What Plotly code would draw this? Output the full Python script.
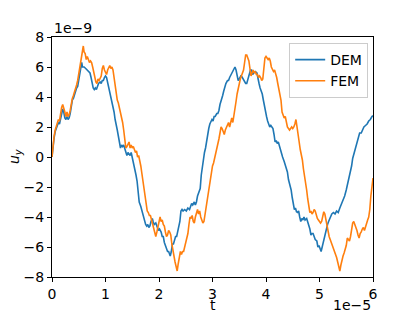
import plotly.graph_objects as go

# time in units of 1e-5, displacement in units of 1e-9
dem_t = [0.00,0.02,0.04,0.06,0.08,0.10,0.12,0.14,0.16,0.18,0.20,0.22,0.24,0.26,0.28,0.30,0.32,0.34,0.36,0.38,
         0.40,0.42,0.44,0.46,0.48,0.50,0.52,0.54,0.555,0.57,0.60,0.63,0.66,0.69,0.71,0.73,0.75,0.77,0.79,0.81,
         0.83,0.85,0.87,0.90,0.92,0.94,0.96,0.98,1.00,1.02,1.04,1.06,1.08,1.10,1.12,1.14,1.16,1.18,1.20,1.22,
         1.24,1.26,1.28,1.30,1.32,1.34,1.36,1.38,1.40,1.42,1.44,1.46,1.48,1.50,1.53,1.55,1.57,1.59,1.61,1.63,
         1.66,1.68,1.70,1.72,1.75,1.77,1.79,1.81,1.83,1.85,1.875,1.89,1.91,1.94,1.96,1.99,2.01,2.04,2.06,2.08,
         2.10,2.12,2.14,2.16,2.18,2.20,2.21,2.23,2.25,2.27,2.29,2.31,2.33,2.35,2.37,2.39,2.41,2.43,2.45,2.48,
         2.51,2.54,2.57,2.59,2.61,2.63,2.66,2.68,2.70,2.72,2.75,2.77,2.79,2.81,2.83,2.85,2.87,2.89,2.91,2.93,
         2.95,2.97,2.99,3.01,3.03,3.05,3.08,3.10,3.12,3.14,3.17,3.19,3.21,3.23,3.25,3.28,3.30,3.32,3.35,3.37,
         3.40,3.42,3.44,3.46,3.48,3.50,3.53,3.55,3.57,3.60,3.62,3.64,3.66,3.68,3.71,3.73,3.75,3.77,3.80,3.83,
         3.85,3.87,3.89,3.91,3.93,3.95,3.97,3.99,4.01,4.03,4.05,4.07,4.09,4.11,4.13,4.15,4.17,4.19,4.21,4.23,
         4.25,4.27,4.29,4.31,4.34,4.36,4.38,4.40,4.42,4.45,4.47,4.49,4.51,4.53,4.55,4.57,4.59,4.61,4.63,4.65,
         4.67,4.69,4.71,4.73,4.76,4.78,4.80,4.82,4.84,4.86,4.88,4.90,4.92,4.95,4.97,4.99,5.01,5.03,5.05,5.07,
         5.09,5.11,5.13,5.15,5.17,5.19,5.21,5.23,5.26,5.29,5.32,5.35,5.38,5.41,5.44,5.47,5.50,5.54,5.57,5.60,
         5.62,5.65,5.68,5.70,5.72,5.75,5.78,5.80,5.83,5.86,5.89,5.92,5.95,5.98,6.00]
dem_u = [0.0,0.8,1.3,1.7,1.9,2.1,2.3,2.2,2.6,2.9,3.2,3.0,2.6,2.5,2.7,2.5,2.6,2.9,3.3,3.8,
         3.9,4.2,4.3,4.6,4.7,5.2,5.6,6.1,6.3,6.0,6.0,5.9,5.8,5.7,5.6,5.3,4.8,4.6,4.5,4.6,
         4.5,4.7,4.9,5.0,4.9,5.1,5.1,5.3,5.4,5.3,5.0,4.7,4.3,4.1,3.6,3.3,3.0,2.5,2.0,1.8,
         1.4,0.9,0.6,0.8,0.7,0.8,0.5,0.3,0.1,0.3,0.2,0.1,0.3,0.0,-0.4,-0.7,-1.2,-1.6,-2.4,-3.0,
         -3.3,-3.6,-3.8,-4.1,-4.5,-4.6,-4.5,-4.7,-4.6,-4.3,-4.1,-4.3,-4.5,-4.4,-4.6,-4.9,-4.8,-5.0,-5.3,-5.3,
         -5.7,-6.0,-6.1,-6.3,-6.3,-6.5,-6.6,-6.3,-5.8,-5.8,-5.5,-5.3,-5.3,-4.9,-4.6,-4.3,-3.6,-3.5,-3.6,-3.5,
         -3.6,-3.4,-3.5,-3.3,-3.1,-3.2,-3.0,-3.2,-3.0,-2.6,-2.3,-2.1,-1.2,-0.6,-0.2,0.3,0.6,1.1,1.7,1.9,
         2.2,2.4,2.5,2.4,2.7,2.7,2.9,2.9,3.1,3.5,3.8,4.1,4.4,4.7,4.9,5.1,5.1,5.3,5.5,5.7,
         5.9,6.0,5.8,5.4,5.1,5.2,5.4,5.35,5.2,5.0,4.9,4.9,5.2,5.5,5.8,5.8,5.5,5.6,5.7,5.6,
         5.1,4.9,4.6,4.4,4.2,3.8,3.4,2.9,2.7,2.4,2.1,2.0,2.1,2.0,1.9,1.5,1.0,1.1,0.9,1.0,
         0.7,0.5,0.3,0.0,-0.3,-0.5,-0.8,-1.0,-1.5,-1.9,-2.2,-2.7,-3.3,-3.5,-3.4,-3.65,-3.7,-3.6,-4.0,-4.3,
         -4.1,-4.2,-4.0,-4.2,-4.1,-4.3,-4.6,-4.8,-5.2,-5.1,-5.1,-5.4,-5.5,-5.6,-6.0,-5.9,-6.1,-6.3,-6.0,-5.7,
         -5.3,-5.1,-4.6,-4.5,-4.3,-4.1,-4.0,-3.8,-3.7,-3.8,-3.6,-3.7,-3.4,-3.15,-2.9,-2.6,-2.2,-1.6,-1.0,-0.6,
         -0.1,0.3,0.7,0.9,1.3,1.6,1.6,1.8,2.0,2.1,2.2,2.4,2.5,2.7,2.75]

fem_t = [0.00,0.02,0.04,0.06,0.08,0.10,0.12,0.14,0.16,0.18,0.20,0.22,0.24,0.26,0.28,0.30,0.32,0.34,0.36,0.38,
         0.40,0.42,0.44,0.46,0.48,0.50,0.52,0.54,0.56,0.585,0.60,0.62,0.64,0.66,0.68,0.70,0.72,0.74,0.76,0.78,
         0.80,0.82,0.84,0.86,0.88,0.90,0.92,0.94,0.96,0.98,1.00,1.02,1.04,1.06,1.08,1.10,1.12,1.14,1.16,1.18,
         1.20,1.22,1.24,1.26,1.28,1.30,1.32,1.34,1.36,1.38,1.40,1.42,1.44,1.46,1.48,1.50,1.52,1.54,1.56,1.58,
         1.60,1.62,1.64,1.66,1.68,1.70,1.72,1.74,1.76,1.78,1.80,1.82,1.84,1.86,1.88,1.90,1.92,1.94,1.96,1.98,
         2.00,2.02,2.04,2.06,2.08,2.10,2.12,2.14,2.16,2.18,2.20,2.22,2.24,2.26,2.28,2.30,2.32,2.34,2.36,2.38,
         2.40,2.42,2.44,2.46,2.48,2.50,2.52,2.54,2.56,2.58,2.60,2.62,2.64,2.66,2.68,2.70,2.72,2.74,2.76,2.78,
         2.80,2.82,2.84,2.86,2.88,2.90,2.92,2.94,2.96,2.98,3.00,3.02,3.04,3.06,3.08,3.10,3.12,3.14,3.16,3.18,
         3.20,3.22,3.24,3.26,3.28,3.30,3.32,3.34,3.36,3.38,3.40,3.42,3.44,3.46,3.48,3.50,3.52,3.54,3.56,3.58,
         3.60,3.62,3.64,3.66,3.68,3.70,3.72,3.74,3.76,3.78,3.80,3.82,3.84,3.86,3.88,3.90,3.92,3.94,3.96,3.98,
         4.00,4.02,4.04,4.06,4.08,4.10,4.12,4.14,4.16,4.18,4.20,4.22,4.24,4.26,4.28,4.30,4.32,4.34,4.36,4.38,
         4.40,4.42,4.44,4.46,4.48,4.50,4.52,4.54,4.56,4.58,4.60,4.62,4.64,4.66,4.68,4.70,4.72,4.74,4.76,4.78,
         4.80,4.82,4.84,4.86,4.88,4.90,4.92,4.94,4.96,4.98,5.00,5.02,5.04,5.06,5.08,5.10,5.12,5.14,5.16,5.18,
         5.20,5.22,5.24,5.26,5.28,5.30,5.32,5.34,5.36,5.38,5.40,5.42,5.44,5.46,5.48,5.50,5.52,5.54,5.56,5.58,
         5.60,5.62,5.64,5.66,5.68,5.70,5.72,5.74,5.76,5.78,5.80,5.82,5.84,5.86,5.88,5.90,5.92,5.94,5.96,5.98,6.00]
fem_u = [0.0,0.9,1.4,1.8,2.0,2.3,2.5,2.4,2.9,3.3,3.5,3.3,3.0,2.7,3.0,2.7,2.8,3.1,3.6,3.9,
         4.1,4.3,4.5,4.8,5.1,5.5,5.9,6.3,6.8,7.4,7.0,6.9,6.5,6.7,6.5,6.3,6.4,6.3,6.0,5.6,
         5.2,5.0,4.9,5.2,5.1,5.3,5.4,5.9,6.1,5.8,5.6,5.5,5.8,6.0,6.1,5.9,6.0,5.8,5.3,4.7,
         4.0,3.8,3.6,3.3,2.9,2.5,2.3,1.8,1.2,0.6,0.7,0.9,1.0,0.6,0.8,0.6,0.7,0.5,0.3,0.4,
         0.0,0.1,-0.2,-0.6,-1.1,-1.6,-2.2,-2.8,-3.4,-3.6,-3.7,-3.9,-3.9,-4.2,-4.5,-4.6,-4.9,-5.3,-5.0,-4.7,
         -4.3,-4.0,-4.3,-4.2,-4.5,-4.6,-5.0,-5.3,-5.2,-4.9,-5.0,-5.2,-5.8,-6.3,-6.6,-7.0,-7.3,-7.6,-7.1,-6.6,
         -6.3,-6.5,-6.3,-6.3,-6.0,-5.7,-5.6,-5.1,-4.5,-4.0,-4.1,-3.9,-4.3,-4.4,-4.0,-3.8,-3.5,-3.8,-3.6,-4.0,
         -4.2,-4.4,-4.3,-3.8,-3.6,-3.0,-2.4,-1.8,-1.3,-1.0,-0.6,-0.4,-0.1,0.1,0.5,0.9,1.2,1.6,2.0,1.9,
         1.6,1.5,1.8,2.0,2.2,2.3,2.0,2.4,2.6,2.3,2.7,3.1,3.7,4.2,4.6,5.0,5.2,5.4,5.6,5.8,
         6.3,6.8,6.8,6.6,6.4,5.9,5.4,5.6,5.8,5.6,5.7,5.5,5.5,5.3,5.4,5.3,5.1,5.2,6.2,6.6,
         6.7,6.6,6.5,6.6,6.4,6.0,5.8,5.7,5.8,5.6,5.3,4.9,4.5,4.1,3.8,3.0,2.7,2.6,2.7,2.2,
         2.0,1.9,1.8,1.9,2.0,1.9,2.0,2.2,2.5,2.0,1.6,1.0,0.5,0.2,-0.2,-0.8,-1.2,-1.6,-2.2,-2.8,
         -3.4,-3.7,-3.6,-3.8,-3.7,-3.5,-3.6,-3.9,-4.1,-4.2,-4.3,-4.4,-4.3,-4.0,-3.65,-3.8,-4.2,-4.7,-4.9,-5.3,
         -5.5,-5.7,-5.9,-6.0,-6.2,-6.5,-6.7,-7.0,-7.4,-7.6,-7.2,-6.8,-6.6,-6.4,-6.2,-5.9,-5.4,-5.5,-5.6,-5.3,
         -4.8,-4.4,-4.3,-4.5,-4.6,-4.9,-5.2,-5.4,-5.1,-5.0,-4.8,-4.7,-4.9,-4.6,-4.3,-4.2,-4.0,-3.5,-2.6,-2.0,-1.4]

x_ticks = [0, 1, 2, 3, 4, 5, 6]
x_ticklabels = ["0", "1", "2", "3", "4", "5", "6"]
y_ticks = [-8, -6, -4, -2, 0, 2, 4, 6, 8]
y_ticklabels = ["\u22128", "\u22126", "\u22124", "\u22122", "0", "2", "4", "6", "8"]

FONT = "DejaVu Sans"
FS = 14

fig = go.Figure()
fig.add_trace(go.Scatter(x=dem_t, y=dem_u, mode="lines", name="DEM",
                         line=dict(color="#1f77b4", width=1.6)))
fig.add_trace(go.Scatter(x=fem_t, y=fem_u, mode="lines", name="FEM",
                         line=dict(color="#ff7f0e", width=1.6)))

axis_common = dict(showgrid=False, zeroline=False, showline=True, linecolor="black",
                   linewidth=1, mirror=True, ticks="outside", ticklen=4, tickwidth=1,
                   tickcolor="black", automargin=False,
                   tickfont=dict(family=FONT, size=FS, color="black"))

fig.update_xaxes(range=[0, 6], tickvals=x_ticks, ticktext=x_ticklabels, **axis_common)
fig.update_yaxes(range=[-8, 8], tickvals=y_ticks, ticktext=y_ticklabels, **axis_common)

# the page body adds an 8px offset, so the figure is laid out 8px smaller
fig.update_layout(
    width=407, height=303,
    margin=dict(l=44, r=42, t=29, b=34),
    paper_bgcolor="white", plot_bgcolor="white",
    font=dict(family=FONT, size=FS, color="black"),
    showlegend=True,
    legend=dict(x=0.985, y=0.975, xanchor="right", yanchor="top",
                bgcolor="rgba(255,255,255,0.8)", bordercolor="#cccccc", borderwidth=1,
                font=dict(family=FONT, size=FS, color="black")),
    annotations=[
        dict(text="1e\u22129", xref="paper", yref="paper", x=0, y=1.0, xanchor="left",
             yanchor="bottom", showarrow=False, font=dict(family=FONT, size=FS), yshift=-1),
        dict(text="1e\u22125", xref="paper", yref="paper", x=1, y=0, xanchor="right",
             yanchor="top", showarrow=False, font=dict(family=FONT, size=FS), yshift=-18),
        dict(text="t", xref="paper", yref="paper", x=0.5, y=0, xanchor="center",
             yanchor="top", showarrow=False, font=dict(family=FONT, size=FS), yshift=-18),
        dict(text="<i>u</i><sub><i>y</i></sub>", xref="paper", yref="paper", x=0, y=0.5,
             xanchor="right", yanchor="middle", textangle=-90, showarrow=False,
             font=dict(family=FONT, size=FS), xshift=-26),
    ],
)

fig.write_html("out.html")
